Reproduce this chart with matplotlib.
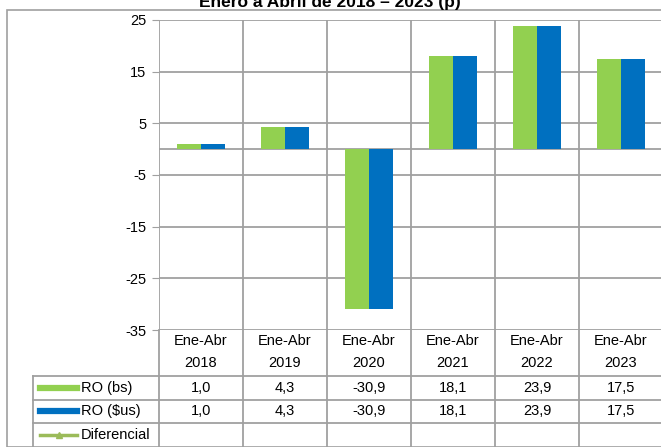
import matplotlib
matplotlib.use('Agg')
import matplotlib.pyplot as plt
from matplotlib.lines import Line2D

plt.rcParams['font.family'] = ['Liberation Sans', 'DejaVu Sans']

# Data
periods = ['Ene-Abr\n2018', 'Ene-Abr\n2019', 'Ene-Abr\n2020', 'Ene-Abr\n2021', 'Ene-Abr\n2022', 'Ene-Abr\n2023']
ro_bs = [1.0, 4.3, -30.9, 18.1, 23.9, 17.5]
ro_us = [1.0, 4.3, -30.9, 18.1, 23.9, 17.5]
diferencial = [None, None, None, None, None, None]
yticks = [25, 15, 5, -5, -15, -25, -35]
title = 'Enero a Abril de 2018 – 2023 (p)'

green = '#92D050'
blue = '#0070C0'
olive = '#9BBB59'
grid = '#A0A0A0'

W, H = 661, 447
fs = 10.5
fig = plt.figure(figsize=(W / 100, H / 100), dpi=100)

# outer frame
frame = plt.Rectangle((7 / W, 0), 1, (H - 10) / H, transform=fig.transFigure,
                      fill=False, edgecolor=grid, linewidth=1.2)
fig.patches.append(frame)

fig.text(330 / W, 1 - 2 / H, title, ha='center', va='center',
         fontsize=12.5, fontweight='bold')

left, right, top, bottom = 159, 663, 20, 330
ax = fig.add_axes([left / W, (H - bottom) / H, (right - left) / W, (bottom - top) / H])
x = list(range(len(periods)))
bw = 0.286
ax.bar([i - bw / 2 for i in x], ro_bs, bw, color=green, zorder=3)
ax.bar([i + bw / 2 for i in x], ro_us, bw, color=blue, zorder=3)
ax.set_xlim(-0.5, len(periods) - 0.5)
ax.set_ylim(-35, 25)
ax.set_yticks(yticks)
ax.set_yticklabels([str(t) for t in yticks], fontsize=fs)
ax.tick_params(axis='y', length=5, color=grid, pad=4)
ax.set_xticks([])
for t in yticks:
    ax.axhline(t, color=grid, linewidth=1.3, zorder=1)
ax.axhline(0, color=grid, linewidth=1.3, zorder=1)
for b in range(len(periods) + 1):
    ax.axvline(b - 0.5, color=grid, linewidth=1.3, zorder=1)
for s in ax.spines.values():
    s.set_visible(False)

# data table
tax = fig.add_axes([left / W, 0, (right - left) / W, (H - bottom) / H])
tax.set_xlim(-0.5, len(periods) - 0.5)
tax.set_ylim(H, bottom)
tax.axis('off')
px = (len(periods)) / (right - left)
tleft = -0.5 - (left - 33) * px
rows = [bottom, 376, 400, 423, H]
for b in range(len(periods) + 1):
    tax.plot([b - 0.5, b - 0.5], [bottom, H], color=grid, lw=1.3, clip_on=False)
tax.plot([tleft, tleft], [rows[1], H], color=grid, lw=1.3, clip_on=False)
for r in rows[1:4]:
    tax.plot([tleft, len(periods) - 0.5], [r, r], color=grid, lw=1.3, clip_on=False)

for i, p in enumerate(periods):
    a, b = p.split('\n')
    tax.text(i, 341, a, ha='center', va='center', fontsize=fs)
    tax.text(i, 363, b, ha='center', va='center', fontsize=fs)
    tax.text(i, 388, f'{ro_bs[i]:.1f}'.replace('.', ','), ha='center', va='center', fontsize=fs)
    tax.text(i, 411, f'{ro_us[i]:.1f}'.replace('.', ','), ha='center', va='center', fontsize=fs)

k0 = -0.5 - (left - 40) * px
k1 = -0.5 - (left - 77) * px
kt = -0.5 - (left - 81) * px
labels = ['RO (bs)', 'RO ($us)', 'Diferencial']
ys = [388, 411, 435]
tax.add_line(Line2D([k0, k1], [ys[0], ys[0]], color=green, lw=4.5, clip_on=False))
tax.add_line(Line2D([k0, k1], [ys[1], ys[1]], color=blue, lw=4.5, clip_on=False))
tax.add_line(Line2D([k0, k1], [ys[2], ys[2]], color=olive, lw=2.5, clip_on=False))
tax.add_line(Line2D([(k0 + k1) / 2], [ys[2]], color=olive, marker='^', markersize=5,
                    clip_on=False))
for lab, yy in zip(labels, ys):
    tax.text(kt, yy, lab, ha='left', va='center', fontsize=fs, clip_on=False)

fig.savefig('out.png', dpi=100)
